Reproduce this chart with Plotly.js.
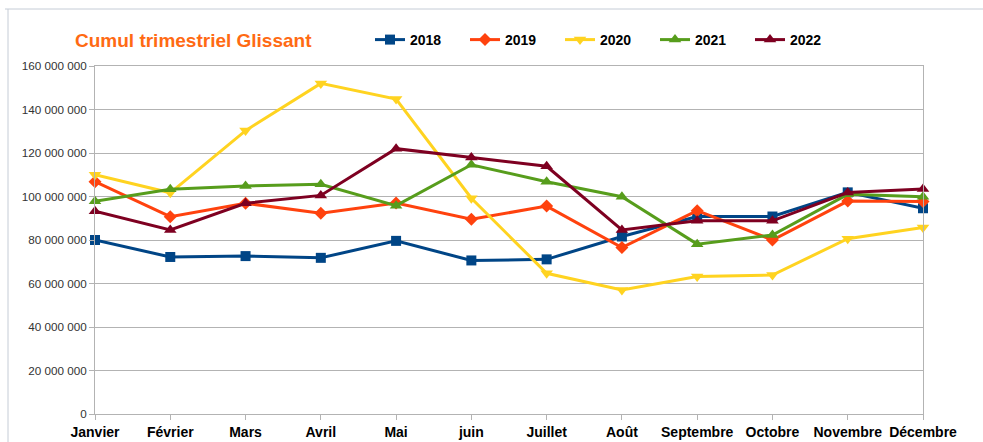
<!DOCTYPE html>
<html>
<head>
<meta charset="utf-8">
<script src="https://cdn.plot.ly/plotly-3.0.1.min.js"></script>
<style>html,body{margin:0;padding:0;background:#fff;}#chart{width:983px;height:442px;}</style>
</head>
<body>
<div id="chart"></div>
<script>
var months = ["Janvier","Février","Mars","Avril","Mai","juin","Juillet","Août","Septembre","Octobre","Novembre","Décembre"];
var y2018 = [80.0e6, 72.2e6, 72.6e6, 71.8e6, 79.6e6, 70.6e6, 71.1e6, 81.6e6, 90.8e6, 90.8e6, 101.9e6, 94.6e6];
var y2019 = [106.8e6, 90.7e6, 96.9e6, 92.3e6, 97.0e6, 89.5e6, 95.6e6, 76.5e6, 93.5e6, 80.0e6, 97.9e6, 97.7e6];
var y2020 = [110.0e6, 101.7e6, 130.3e6, 152.0e6, 144.8e6, 99.2e6, 64.7e6, 57.0e6, 63.2e6, 63.9e6, 80.6e6, 85.8e6];
var y2021 = [97.8e6, 103.3e6, 104.8e6, 105.6e6, 95.8e6, 114.6e6, 106.8e6, 99.9e6, 78.1e6, 82.3e6, 101.0e6, 99.9e6];
var y2022 = [93.2e6, 84.6e6, 96.9e6, 100.5e6, 122.0e6, 117.9e6, 113.9e6, 84.6e6, 88.8e6, 88.8e6, 101.8e6, 103.4e6];
var yTickVals = [0, 20e6, 40e6, 60e6, 80e6, 100e6, 120e6, 140e6, 160e6];
var yTickText = ["0","20 000 000","40 000 000","60 000 000","80 000 000","100 000 000","120 000 000","140 000 000","160 000 000"];

function tr(name, y, color, symbol, size) {
  return {
    type: 'scatter', mode: 'lines+markers', name: name, x: months, y: y,
    line: {color: color, width: 3},
    marker: {color: color, symbol: symbol, size: size},
    cliponaxis: false
  };
}
var data = [
  tr('2018', y2018, '#004586', 'square', 10),
  tr('2019', y2019, '#ff420e', 'diamond', 10),
  tr('2020', y2020, '#ffd320', 'triangle-down', 11),
  tr('2021', y2021, '#579d1c', 'triangle-up', 11),
  tr('2022', y2022, '#7e0021', 'triangle-up', 11)
];
var layout = {
  width: 983, height: 442,
  margin: {l: 95, r: 60, t: 66, b: 28},
  paper_bgcolor: '#ffffff', plot_bgcolor: '#ffffff',
  font: {family: '"Liberation Sans", Arial, sans-serif', color: '#333333', size: 11},
  title: {
    text: '<b>Cumul trimestriel Glissant</b>',
    font: {family: '"Liberation Sans", Arial, sans-serif', size: 19, color: '#ff6a13'},
    xref: 'container', yref: 'container', x: 75/983, xanchor: 'left', y: 1 - 40/442, yanchor: 'middle'
  },
  showlegend: true,
  legend: {
    orientation: 'h', xref: 'container', yref: 'container',
    x: 370/983, xanchor: 'left', y: 1 - 40/442, yanchor: 'middle',
    font: {family: '"Liberation Sans", Arial, sans-serif', size: 14, color: '#000000', weight: 'bold'},
    entrywidth: 50, itemwidth: 30, traceorder: 'normal', bgcolor: 'rgba(0,0,0,0)'
  },
  xaxis: {
    type: 'category', range: [0, 11], autorange: false,
    showgrid: false, showline: true, linecolor: '#b3b3b3', linewidth: 1, mirror: true,
    ticks: 'outside', ticklen: 5, tickcolor: '#b3b3b3',
    tickfont: {family: '"Liberation Sans", Arial, sans-serif', size: 14, color: '#000000', weight: 'bold'},
    zeroline: false, fixedrange: true
  },
  yaxis: {
    range: [0, 160e6], autorange: false,
    tickvals: yTickVals, ticktext: yTickText,
    showgrid: true, gridcolor: '#b3b3b3', gridwidth: 1,
    showline: true, linecolor: '#b3b3b3', linewidth: 1, mirror: true,
    ticks: 'outside', ticklen: 5, tickcolor: '#b3b3b3',
    tickfont: {family: '"Liberation Sans", Arial, sans-serif', size: 11.7, color: '#333333'},
    zeroline: false, fixedrange: true
  },
  shapes: [
    {type: 'line', xref: 'paper', yref: 'paper', x0: -90/828, x1: 1 + 60/828, y0: 1 + 57/348, y1: 1 + 57/348, line: {color: '#c5ccd6', width: 1}},
    {type: 'line', xref: 'paper', yref: 'paper', x0: -87/828, x1: -87/828, y0: 1 + 57/348, y1: -28/348, line: {color: '#c5ccd6', width: 1}}
  ]
};
Plotly.newPlot('chart', data, layout, {displayModeBar: false, staticPlot: true});
</script>
</body>
</html>
